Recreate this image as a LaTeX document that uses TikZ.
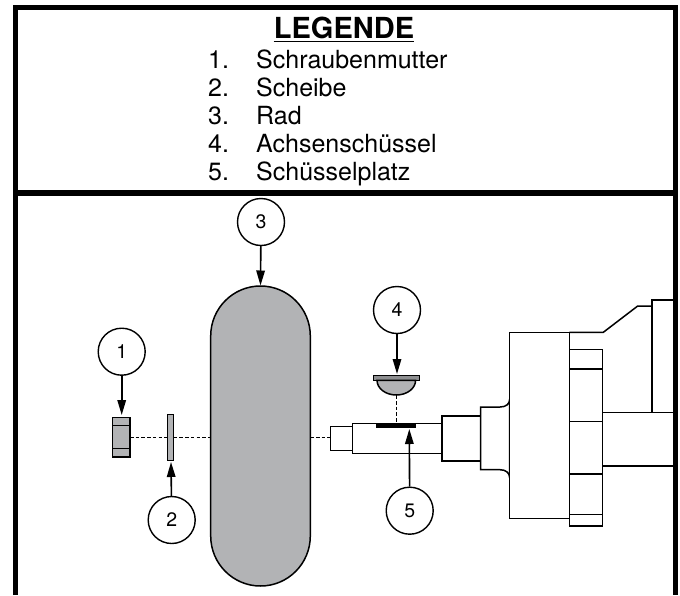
\documentclass[tikz,border=0pt]{standalone}
\usepackage{fontspec}
\setmainfont{TeX Gyre Heros}
\usetikzlibrary{arrows.meta}
\definecolor{partgray}{HTML}{B2B3B5}
\definecolor{capgray}{HTML}{8E8F91}
\tikzset{
  callout/.style={circle,draw=black,line width=1.4pt,fill=white,minimum size=47pt,inner sep=0pt,font=\fontsize{19.5}{22}\selectfont},
  leader/.style={line width=1.6pt,-{Triangle[length=15pt,width=8.5pt]},shorten >=0.5pt},
  axisline/.style={line width=1pt,dash pattern=on 3.5pt off 2.2pt},
  framebar/.style={line width=5pt,black},
  outline/.style={line width=1.5pt,black},
  gravepart/.style={draw=black,line width=1.5pt,fill=partgray,inner sep=0pt,outer sep=0pt},
  plainpart/.style={outline,fill=white},
  legnum/.style={anchor=base west,inner sep=0pt,font=\fontsize{25}{28}\selectfont},
}
\begin{document}
\begin{tikzpicture}[x=1pt,y=-1pt]
\useasboundingbox (0,0) rectangle (680,595);
\fill[white] (0,0) rectangle (680,595);
% frame
\draw[framebar] (15.5,595) -- (15.5,7) -- (675.5,7) -- (675.5,595);
\draw[framebar,line width=6pt] (13,193) -- (678,193);
% legend
\node[anchor=base,inner sep=0pt,font=\fontsize{29}{32}\bfseries\selectfont] (title) at (344,38) {LEGENDE};
\draw[line width=1.6pt] (title.base west)++(0,3.5) -- (title.base east |- 0,41.5);
\node[legnum] (n1) at (208,68) {1.};  \node[legnum] (t1) at (256,68) {Schraubenmutter};
\node[legnum] (n2) at (208,96) {2.};  \node[legnum] (t2) at (256,96) {Scheibe};
\node[legnum] (n3) at (208,124) {3.}; \node[legnum] (t3) at (256,124) {Rad};
\node[legnum] (n4) at (208,152) {4.}; \node[legnum] (t4) at (256,152) {Achsenschüssel};
\node[legnum] (n5) at (208,180) {5.}; \node[legnum] (t5) at (256,180) {Schüsselplatz};
% axle assembly
\draw[plainpart] (330.7,426.7) rectangle (352.7,450.3);
\draw[plainpart] (352.7,423.3) rectangle (442,453.7);
\draw[plainpart] (442,416) rectangle (480.7,461);
\draw[plainpart] (480.7,407) -- (500,407) .. controls (506,407) and (509.7,404) .. (509.7,399)
  -- (509.7,478) .. controls (509.7,473) and (506,469.7) .. (500,469.7) -- (480.7,469.7) -- cycle;
\draw[outline] (569.3,332.3) -- (603.3,332.3) -- (637.7,306) -- (652,306);
\draw[outline] (652,412.7) -- (652,300) -- (673,300);
\draw[outline] (602.7,412.7) -- (673,412.7);
\draw[outline] (602.7,466) -- (673,466);
\draw[plainpart] (509.7,332.3) rectangle (569.3,518.7);
\draw[plainpart] (569.3,349.3) rectangle (602.7,526);
\foreach \yy in {369,421.3,474,514.7} \draw[outline] (569.3,\yy) -- (602.7,\yy);
% parts
\node[gravepart,minimum width=17.3pt,minimum height=39.3pt] (nut) at (121.35,437.35) {};
\draw[outline] (nut.west |- 0,425.3) -- (nut.east |- 0,425.3);
\draw[outline] (nut.west |- 0,448.3) -- (nut.east |- 0,448.3);
\node[gravepart,minimum width=6pt,minimum height=46.4pt] (washer) at (170.7,437.5) {};
\draw[gravepart] (210.7,336) arc[start angle=180,end angle=0,x radius=49.8,y radius=-50]
  -- (310.3,536) arc[start angle=0,end angle=180,x radius=49.8,y radius=50] -- cycle;
\coordinate (wheeltop) at (260.5,286);
\coordinate (wheelleft) at (210.7,437.3);
\coordinate (wheelright) at (310.3,437.3);
\coordinate (stub) at (330.7,437.3);
% key and seat
\node[fill=black,inner sep=0pt,minimum width=40pt,minimum height=4.4pt] (seat) at (396,425.5) {};
\node[draw=black,line width=1.2pt,fill=capgray,inner sep=0pt,minimum width=46pt,minimum height=4.6pt] (capflange) at (396.3,378) {};
\draw[gravepart] (377,380.3) arc[start angle=180,end angle=360,x radius=19.3,y radius=-14.7] -- cycle;
\coordinate (keybottom) at (396.3,395.3);
\coordinate (seattop) at (396.3,423.3);
% axis dashes
\draw[axisline] (nut.east |- 0,437.3) -- (washer.west |- 0,437.3);
\draw[axisline] (washer.east |- 0,437.3) -- (wheelleft);
\draw[axisline] (wheelright) -- (stub);
\draw[axisline] (keybottom) -- (seattop);
% callouts
\node[callout] (c1) at (121.7,351.7) {1};
\node[callout] (c2) at (171.7,520) {2};
\node[callout] (c3) at (261,222) {3};
\node[callout] (c4) at (397,310) {4};
\node[callout] (c5) at (409.7,510.7) {5};
\draw[leader] (c1) -- (121.7,415.5);
\draw[leader] (c2) -- (171,461.5);
\draw[leader] (c3) -- (wheeltop);
\draw[leader] (c4) -- (397,374.5);
\draw[leader] (c5) -- (409.3,428.5);
\end{tikzpicture}
\end{document}
